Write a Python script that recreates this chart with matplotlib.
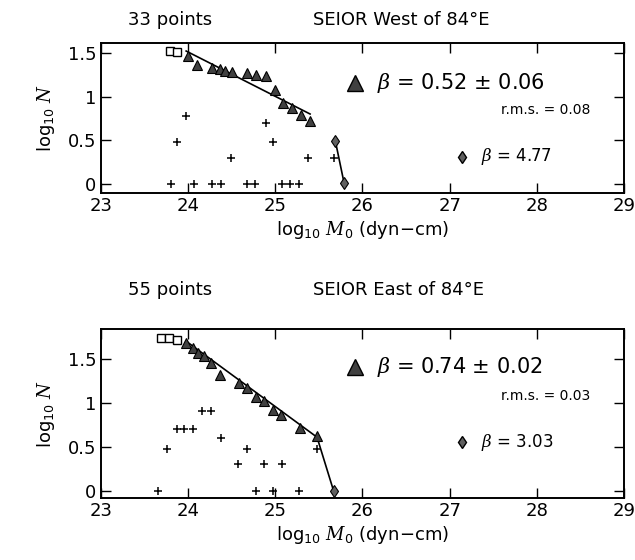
import numpy as np
import matplotlib
matplotlib.use('Agg')
import matplotlib.pyplot as plt

plt.rcParams['font.family'] = ['DejaVu Sans']
plt.rcParams['mathtext.fontset'] = 'custom'
plt.rcParams['mathtext.rm'] = 'DejaVu Sans'
plt.rcParams['mathtext.it'] = 'DejaVu Serif:italic'

# ---- West of 84E ----
west_sq_x = [23.79, 23.88]
west_sq_y = [1.519, 1.505]
west_tri_x = [24.00, 24.10, 24.28, 24.37, 24.43, 24.50, 24.68, 24.78, 24.89,
              25.00, 25.09, 25.19, 25.30, 25.40]
west_tri_y = [1.462, 1.362, 1.33, 1.31, 1.29, 1.28, 1.27, 1.25, 1.23,
              1.07, 0.93, 0.87, 0.79, 0.72]
west_dia_x = [25.69, 25.79]
west_dia_y = [0.49, 0.01]
west_plus_x = [23.88, 23.98, 24.49, 24.89, 24.98, 25.38, 25.67,
               23.81, 24.07, 24.28, 24.375, 24.68, 24.77, 25.08, 25.17, 25.27]
west_plus_y = [0.477, 0.778, 0.301, 0.699, 0.477, 0.301, 0.301,
               0, 0, 0, 0, 0, 0, 0, 0, 0]
west_fit_x = [23.98, 25.40]
west_fit_y = [1.52, 0.80]

# ---- East of 84E ----
east_sq_x = [23.69, 23.78, 23.87]
east_sq_y = [1.740, 1.732, 1.716]
east_tri_x = [23.98, 24.06, 24.12, 24.19, 24.27, 24.37, 24.58, 24.68, 24.78,
              24.87, 24.98, 25.07, 25.28, 25.48]
east_tri_y = [1.681, 1.62, 1.57, 1.53, 1.45, 1.32, 1.22, 1.17, 1.07,
              1.02, 0.92, 0.86, 0.71, 0.62]
east_dia_x = [25.67]
east_dia_y = [0.0]
east_plus_x = [23.66, 23.76, 23.87, 23.96, 24.06, 24.16, 24.27, 24.38, 24.57,
               24.68, 24.78, 24.87, 24.98, 25.08, 25.27, 25.48]
east_plus_y = [0, 0.477, 0.699, 0.699, 0.699, 0.903, 0.903, 0.602, 0.301,
               0.477, 0, 0.301, 0, 0.301, 0, 0.477]
east_fit_x = [23.98, 25.48]
east_fit_y = [1.70, 0.61]
east_steep_x = [25.48, 25.67]
east_steep_y = [0.61, 0.0]

xticks = [23, 24, 25, 26, 27, 28, 29]
yticks = [0, 0.5, 1, 1.5]
yticklabels = ['0', '0.5', '1', '1.5']


def draw_panel(ax, sq_x, sq_y, tri_x, tri_y, dia_x, dia_y, plus_x, plus_y,
               fit_x, fit_y, steep_x, steep_y, ylim):
    ax.plot(fit_x, fit_y, color='black', lw=1.2, zorder=2)
    ax.plot(steep_x, steep_y, color='black', lw=1.2, zorder=2)
    ax.plot(sq_x, sq_y, 's', ms=6, mfc='white', mec='black', mew=1.0, zorder=3)
    ax.plot(tri_x, tri_y, '^', ms=6.5, mfc='#404040', mec='black', mew=0.8,
            zorder=3)
    ax.plot(dia_x, dia_y, 'd', ms=6, mfc='#606060', mec='black', mew=0.8,
            zorder=3)
    ax.plot(plus_x, plus_y, '+', ms=6, color='black', mew=1.1, zorder=3)

    ax.set_xlim(23, 29)
    ax.set_ylim(*ylim)
    ax.set_xticks(xticks)
    ax.set_yticks(yticks)
    ax.set_yticklabels(yticklabels)
    ax.tick_params(axis='both', direction='in', length=7, width=1.0,
                   top=True, right=True, labelsize=13, pad=3)
    for s in ax.spines.values():
        s.set_linewidth(1.4)
    ax.set_xlabel(r'log$_{10}$ $M_0$ (dyn$-$cm)', fontsize=13, labelpad=3)
    ax.set_ylabel(r'log$_{10}$ $N$', fontsize=13, labelpad=8)


def draw_notes(ax, tri_y, beta, err, rms, beta2, rms_y, dia_y):
    ax.plot([0.486], [tri_y], '^', ms=11, mfc='#404040', mec='black',
            transform=ax.transAxes, clip_on=False)
    ax.text(0.527, tri_y, r'$\beta$ = %s $\pm$ %s' % (beta, err), fontsize=15,
            va='center', ha='left', transform=ax.transAxes)
    ax.text(0.935, rms_y, 'r.m.s. = %s' % rms, fontsize=10, va='center',
            ha='right', transform=ax.transAxes)
    ax.plot([0.69], [dia_y], 'd', ms=6, mfc='#606060', mec='black',
            transform=ax.transAxes, clip_on=False)
    ax.text(0.727, dia_y, r'$\beta$ = %s' % beta2, fontsize=12, va='center',
            ha='left', transform=ax.transAxes)


fig = plt.figure(figsize=(6.35, 5.6), dpi=100)
ax1 = fig.add_axes([0.1585, 0.6554, 0.8245, 0.268])
ax2 = fig.add_axes([0.1585, 0.1107, 0.8245, 0.302])

draw_panel(ax1, west_sq_x, west_sq_y, west_tri_x, west_tri_y, west_dia_x,
           west_dia_y, west_plus_x, west_plus_y, west_fit_x, west_fit_y,
           west_dia_x, west_dia_y, (-0.103, 1.613))
draw_notes(ax1, 0.733, '0.52', '0.06', '0.08', '4.77', 0.553, 0.24)

draw_panel(ax2, east_sq_x, east_sq_y, east_tri_x, east_tri_y, east_dia_x,
           east_dia_y, east_plus_x, east_plus_y, east_fit_x, east_fit_y,
           east_steep_x, east_steep_y, (-0.08, 1.84))
draw_notes(ax2, 0.775, '0.74', '0.02', '0.03', '3.03', 0.604, 0.331)

fig.text(0.2016, 0.964, '33 points', fontsize=13, va='center', ha='left')
fig.text(0.493, 0.964, 'SEIOR West of 84°E', fontsize=13, va='center',
         ha='left')
fig.text(0.2016, 0.482, '55 points', fontsize=13, va='center', ha='left')
fig.text(0.493, 0.482, 'SEIOR East of 84°E', fontsize=13, va='center',
         ha='left')

fig.savefig('out.png', dpi=100)
